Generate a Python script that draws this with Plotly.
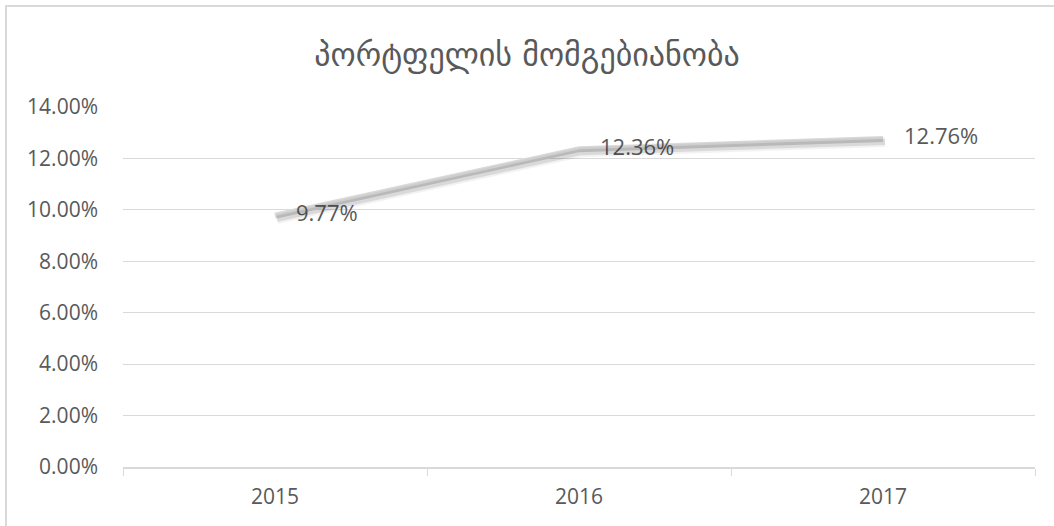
import plotly.graph_objects as go

years = ["2015", "2016", "2017"]
returns = [0.0977, 0.1236, 0.1276]
labels = ["9.77%", "12.36%", "12.76%"]
title_text = "პორტფელის მომგებიანობა"

W, H = 1054, 526
ml, mr, mt, mb = 123, 19, 107, 59
pw, ph = W - ml - mr, H - mt - mb
YMAX = 0.14
# shadow offset of 3px down / 2px right, expressed in axis units
dy = 3 * YMAX / ph
dx = 2 * 3.0 / pw

TXT = "#595959"
GRID = "#d9d9d9"
FONT = "Open Sans, Liberation Sans, sans-serif"

fig = go.Figure()
# soft shadow (drawn on offset overlay axes)
fig.add_trace(go.Scatter(x=years, y=returns, mode="lines", xaxis="x2", yaxis="y2",
                         line=dict(color="rgba(0,0,0,0.05)", width=10),
                         hoverinfo="skip", showlegend=False))
fig.add_trace(go.Scatter(x=years, y=returns, mode="lines", xaxis="x2", yaxis="y2",
                         line=dict(color="rgba(0,0,0,0.10)", width=6),
                         hoverinfo="skip", showlegend=False))
fig.add_trace(go.Scatter(x=years, y=returns, mode="lines+markers+text",
                         line=dict(color="#dadada", width=6),
                         marker=dict(size=32, color="rgba(0,0,0,0)"),
                         text=labels, textposition="middle right",
                         textfont=dict(size=22, color=TXT, family=FONT),
                         showlegend=False))

fig.update_layout(
    width=W, height=H,
    margin=dict(l=ml, r=mr, t=mt, b=mb),
    paper_bgcolor="white", plot_bgcolor="white",
    title=dict(text=title_text, x=0.5, xanchor="center", y=1 - 55 / H, yanchor="middle",
               font=dict(size=32, color=TXT, family="DejaVu Sans, sans-serif")),
    font=dict(family=FONT, color=TXT, size=21),
    xaxis=dict(type="category", range=[-0.5, 2.5], showgrid=False,
               showline=True, linecolor=GRID, linewidth=2,
               ticks="outside", tickson="boundaries", ticklen=7, tickcolor=GRID,
               ticklabelstandoff=10,
               tickfont=dict(size=21, color=TXT)),
    yaxis=dict(range=[0, YMAX], dtick=0.02, tickformat=".2%",
               showgrid=True, gridcolor=GRID, gridwidth=1, zeroline=False,
               ticks="", ticklabelstandoff=24,
               tickfont=dict(size=21, color=TXT)),
    xaxis2=dict(type="category", range=[-0.5 - dx, 2.5 - dx], overlaying="x",
                visible=False),
    yaxis2=dict(range=[dy, YMAX + dy], overlaying="y", visible=False),
    shapes=[dict(type="rect", xref="paper", yref="paper",
                 x0=(6 - ml) / pw, x1=(W + 10 - ml) / pw,
                 y0=-(mb + 10) / ph, y1=(H - 6 - mb) / ph,
                 line=dict(color=GRID, width=2), fillcolor="rgba(0,0,0,0)",
                 layer="below")],
)

fig.write_html("out.html", config={"displayModeBar": False},
               post_script="document.body.style.margin='0';document.body.style.overflow='hidden';")
